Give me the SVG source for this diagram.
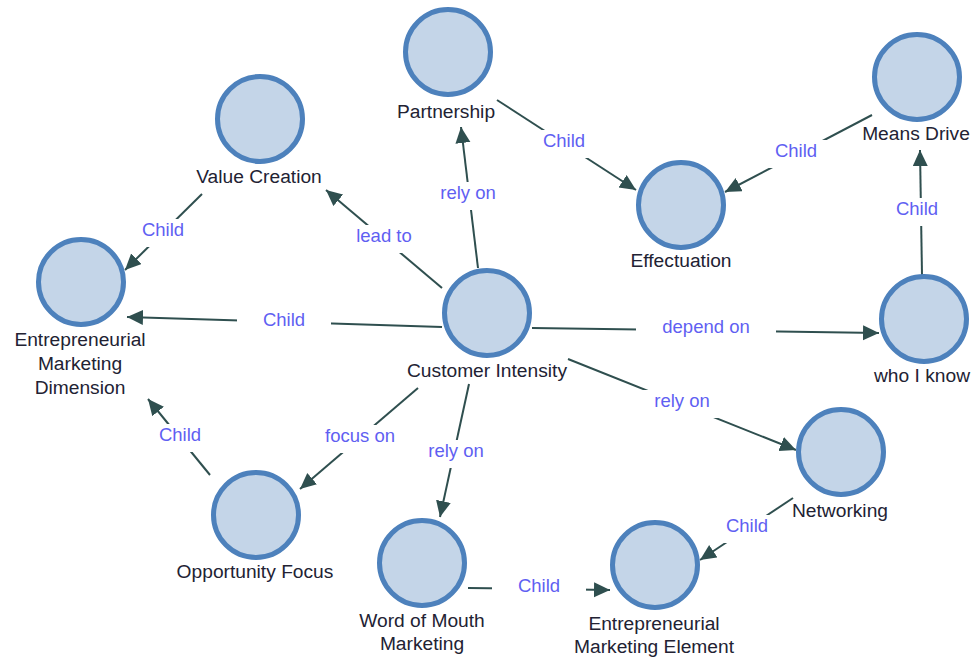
<svg xmlns="http://www.w3.org/2000/svg" width="972" height="661" viewBox="0 0 972 661">
  <defs>
    <marker id="arrow" markerUnits="userSpaceOnUse" markerWidth="18" markerHeight="16" refX="16" refY="7.5" orient="auto">
      <path d="M0,0 L16,7.5 L0,15 Z" fill="#2f4f4f"/>
    </marker>
    <style>
      .edge { stroke: #2f4f4f; stroke-width: 2; fill: none; marker-end: url(#arrow); }
      .lbg { fill: #ffffff; }
      .elabel { font-family: "Liberation Sans", Arial, sans-serif; font-size: 18.5px; fill: #5f5ff2; text-anchor: middle; }
      .node circle { fill: #c4d5e8; stroke: #4d81bc; stroke-width: 5; }
      .node text { font-family: "Liberation Sans", Arial, sans-serif; font-size: 19.2px; fill: #222233; text-anchor: middle; }
    </style>
  </defs>
  <rect width="972" height="661" fill="#ffffff"/>

  <g id="connectors">
    <line class="edge" x1="442" y1="288" x2="326" y2="190"/>
    <line class="edge" x1="478" y1="268" x2="461" y2="127"/>
    <line class="edge" x1="442" y1="327" x2="127" y2="317"/>
    <line class="edge" x1="532" y1="328" x2="879" y2="333"/>
    <line class="edge" x1="568" y1="359" x2="796" y2="450"/>
    <line class="edge" x1="469" y1="384" x2="440" y2="517"/>
    <line class="edge" x1="418" y1="388" x2="300" y2="489"/>
    <line class="edge" x1="202" y1="194" x2="125" y2="270"/>
    <line class="edge" x1="210" y1="475" x2="148" y2="399"/>
    <line class="edge" x1="497" y1="100" x2="636" y2="190"/>
    <line class="edge" x1="872" y1="115" x2="725" y2="192"/>
    <line class="edge" x1="922" y1="275" x2="920" y2="150"/>
    <line class="edge" x1="793" y1="498" x2="700" y2="560"/>
    <line class="edge" x1="468" y1="588" x2="610" y2="590"/>

    <!-- edge labels, each on a white plate that breaks its line -->
    <rect class="lbg" x="330" y="225" width="108" height="28"/>
    <text class="elabel" x="384" y="242">lead to</text>
    <rect class="lbg" x="414" y="182" width="108" height="28"/>
    <text class="elabel" x="468" y="199">rely on</text>
    <rect class="lbg" x="237" y="309" width="94" height="28"/>
    <text class="elabel" x="284" y="326">Child</text>
    <rect class="lbg" x="636" y="316" width="140" height="28"/>
    <text class="elabel" x="706" y="333">depend on</text>
    <rect class="lbg" x="628" y="390" width="108" height="28"/>
    <text class="elabel" x="682" y="407">rely on</text>
    <rect class="lbg" x="402" y="440" width="108" height="28"/>
    <text class="elabel" x="456" y="457">rely on</text>
    <rect class="lbg" x="299" y="425" width="122" height="28"/>
    <text class="elabel" x="360" y="442">focus on</text>
    <rect class="lbg" x="116" y="219" width="94" height="28"/>
    <text class="elabel" x="163" y="236">Child</text>
    <rect class="lbg" x="133" y="424" width="94" height="28"/>
    <text class="elabel" x="180" y="441">Child</text>
    <rect class="lbg" x="517" y="130" width="94" height="28"/>
    <text class="elabel" x="564" y="147">Child</text>
    <rect class="lbg" x="749" y="140" width="94" height="28"/>
    <text class="elabel" x="796" y="157">Child</text>
    <rect class="lbg" x="870" y="198" width="94" height="28"/>
    <text class="elabel" x="917" y="215">Child</text>
    <rect class="lbg" x="700" y="515" width="94" height="28"/>
    <text class="elabel" x="747" y="532">Child</text>
    <rect class="lbg" x="492" y="575" width="94" height="28"/>
    <text class="elabel" x="539" y="592">Child</text>
  </g>

  <g id="customer-intensity" class="node">
    <circle cx="487" cy="313" r="42.5"/>
    <text x="487" y="377">Customer Intensity</text>
  </g>
  <g id="entrepreneurial-marketing-dimension" class="node">
    <circle cx="81" cy="282" r="42.5"/>
    <text x="80" y="346">Entrepreneurial</text>
    <text x="80" y="370">Marketing</text>
    <text x="80" y="394">Dimension</text>
  </g>
  <g id="value-creation" class="node">
    <circle cx="260" cy="119" r="42.5"/>
    <text x="259" y="183">Value Creation</text>
  </g>
  <g id="partnership" class="node">
    <circle cx="448" cy="52" r="42.5"/>
    <text x="446" y="118">Partnership</text>
  </g>
  <g id="effectuation" class="node">
    <circle cx="681" cy="205" r="42.5"/>
    <text x="681" y="267">Effectuation</text>
  </g>
  <g id="means-drive" class="node">
    <circle cx="917" cy="77" r="42.5"/>
    <text x="916" y="140">Means Drive</text>
  </g>
  <g id="who-i-know" class="node">
    <circle cx="924" cy="319" r="42.5"/>
    <text x="922" y="382">who I know</text>
  </g>
  <g id="networking" class="node">
    <circle cx="841" cy="452" r="42.5"/>
    <text x="840" y="517">Networking</text>
  </g>
  <g id="opportunity-focus" class="node">
    <circle cx="256" cy="515" r="42.5"/>
    <text x="255" y="578">Opportunity Focus</text>
  </g>
  <g id="word-of-mouth-marketing" class="node">
    <circle cx="422" cy="563" r="42.5"/>
    <text x="422" y="627">Word of Mouth</text>
    <text x="422" y="650">Marketing</text>
  </g>
  <g id="entrepreneurial-marketing-element" class="node">
    <circle cx="655" cy="565" r="42.5"/>
    <text x="654" y="630">Entrepreneurial</text>
    <text x="654" y="653">Marketing Element</text>
  </g>
</svg>
